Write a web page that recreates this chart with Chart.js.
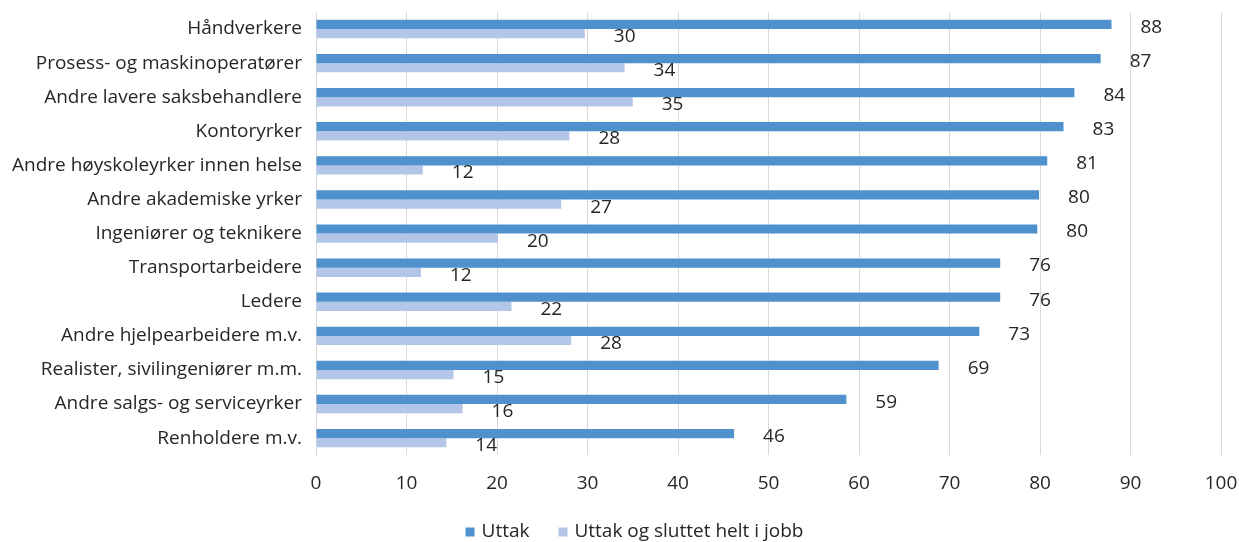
<!DOCTYPE html>
<html>
<head>
<meta charset="utf-8">
<script src="https://cdn.jsdelivr.net/npm/chart.js@4/dist/chart.umd.min.js"></script>
<style>
  html, body { margin: 0; padding: 0; background: #fff; }
  #wrap { width: 1239px; height: 542px; }
</style>
</head>
<body>
<div id="wrap"><canvas id="yrkeChart"></canvas></div>
<script>
var categories = [
  "Håndverkere",
  "Prosess- og maskinoperatører",
  "Andre lavere saksbehandlere",
  "Kontoryrker",
  "Andre høyskoleyrker innen helse",
  "Andre akademiske yrker",
  "Ingeniører og teknikere",
  "Transportarbeidere",
  "Ledere",
  "Andre hjelpearbeidere m.v.",
  "Realister, sivilingeniører m.m.",
  "Andre salgs- og serviceyrker",
  "Renholdere m.v."
];
var uttak = [87.9, 86.7, 83.8, 82.6, 80.8, 79.9, 79.7, 75.6, 75.6, 73.3, 68.8, 58.6, 46.2];
var uttakSluttet = [29.7, 34.1, 35.0, 28.0, 11.8, 27.1, 20.1, 11.6, 21.6, 28.2, 15.2, 16.2, 14.4];
var xTicks = [0, 10, 20, 30, 40, 50, 60, 70, 80, 90, 100];

var fontFamily = "'Open Sans', 'Noto Sans', sans-serif";
var textColor = "#262626";
var farger = ["#4F91CD", "#B4C6E7"];

// tegner verdiene til høyre for søylene
var verdiPlugin = {
  id: "verdier",
  afterDatasetsDraw: function (chart) {
    var ctx = chart.ctx;
    ctx.save();
    ctx.font = "19px " + fontFamily;
    ctx.fillStyle = textColor;
    ctx.textAlign = "left";
    ctx.textBaseline = "middle";
    chart.data.datasets.forEach(function (ds, i) {
      var meta = chart.getDatasetMeta(i);
      meta.data.forEach(function (bar, j) {
        ctx.fillText(Math.round(ds.data[j]), bar.x + 29, bar.y + 3);
      });
    });
    ctx.restore();
  }
};

// egen forklaring nederst (mer luft mellom elementene enn standard)
var forklaringPlugin = {
  id: "forklaring",
  afterDraw: function (chart) {
    var ctx = chart.ctx;
    var ds = chart.data.datasets;
    ctx.save();
    ctx.font = "19px " + fontFamily;
    ctx.textBaseline = "middle";
    ctx.textAlign = "left";
    var box = 9, gapText = 7, gapItem = 29;
    var total = 0;
    ds.forEach(function (d, i) {
      total += box + gapText + ctx.measureText(d.label).width;
      if (i < ds.length - 1) total += gapItem;
    });
    var x = (chart.width + 30) / 2 - total / 2;
    var y = chart.height - 10;
    ds.forEach(function (d) {
      ctx.fillStyle = d.backgroundColor;
      ctx.fillRect(x, y - box / 2, box, box);
      x += box + gapText;
      ctx.fillStyle = textColor;
      ctx.fillText(d.label, x, y);
      x += ctx.measureText(d.label).width + gapItem;
    });
    ctx.restore();
  }
};

var ctx = document.getElementById("yrkeChart").getContext("2d");
var myChart = new Chart(ctx, {
  type: "bar",
  data: {
    labels: categories,
    datasets: [
      {
        label: "Uttak",
        data: uttak,
        backgroundColor: farger[0],
        categoryPercentage: 0.54,
        barPercentage: 1.0
      },
      {
        label: "Uttak og sluttet helt i jobb",
        data: uttakSluttet,
        backgroundColor: farger[1],
        categoryPercentage: 0.54,
        barPercentage: 1.0
      }
    ]
  },
  options: {
    indexAxis: "y",
    responsive: true,
    maintainAspectRatio: false,
    animation: false,
    layout: { padding: { left: 0, right: 18, top: 12, bottom: 30 } },
    scales: {
      x: {
        min: 0,
        max: 100,
        afterBuildTicks: function (scale) {
          scale.ticks = xTicks.map(function (v) { return { value: v }; });
        },
        afterFit: function (scale) {
          scale.paddingLeft = 0;
          scale.paddingRight = 0;
        },
        grid: { color: "#D9D9D9", lineWidth: 1, drawTicks: false },
        border: { display: false },
        ticks: {
          color: textColor,
          font: { family: fontFamily, size: 19 },
          padding: 17
        }
      },
      y: {
        grid: { display: false, drawTicks: false },
        border: { display: true, color: "#D9D9D9" },
        afterFit: function (scale) {
          scale.width = 316;
          scale.paddingTop = 0;
          scale.paddingBottom = 0;
        },
        ticks: {
          color: textColor,
          font: { family: fontFamily, size: 19 },
          padding: 14,
          autoSkip: false
        }
      }
    },
    plugins: {
      legend: { display: false },
      tooltip: { enabled: false }
    }
  },
  plugins: [verdiPlugin, forklaringPlugin]
});
</script>
</body>
</html>
